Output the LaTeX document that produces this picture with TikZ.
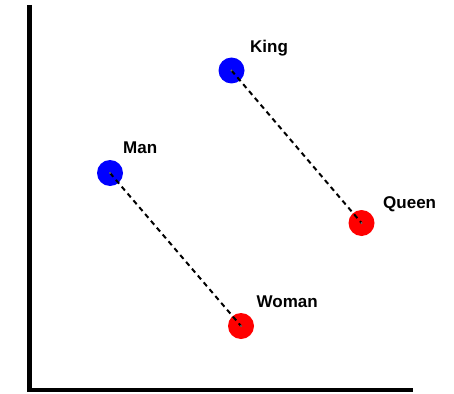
\documentclass[tikz,border=0pt]{standalone}
\usepackage{fontspec}
\setmainfont{Liberation Sans}
\begin{document}
\begin{tikzpicture}[x=1pt,y=-1pt,
  word/.style={circle,inner sep=0pt,minimum size=26pt},
  wlabel/.style={anchor=base west,inner sep=0pt,font=\fontsize{17}{20}\selectfont\bfseries},
  link/.style={line width=2pt,dash pattern=on 5pt off 4pt}]
  \useasboundingbox (0,0) rectangle (454,393);
  % axes
  \draw[line width=4.5pt] (29.5,5) -- (29.5,390) -- (413,390);
  % words
  \node[word,fill=blue] (king) at (231.5,70.5) {};
  \node[word,fill=blue] (man) at (110,173) {};
  \node[word,fill=red] (queen) at (361.5,223) {};
  \node[word,fill=red] (woman) at (241,326) {};
  \node[wlabel] (kinglbl) at (250,52.5) {King};
  \node[wlabel] (manlbl) at (123,153.5) {Man};
  \node[wlabel] (queenlbl) at (383,208.5) {Queen};
  \node[wlabel] (womanlbl) at (256.5,307.5) {Woman};
  \draw[link] (king.center) -- (queen.center);
  \draw[link] (man.center) -- (woman.center);
  \foreach \w in {king,man,queen,woman}
    \fill[black!60] (\w.center) circle (1.2pt);
\end{tikzpicture}
\end{document}
